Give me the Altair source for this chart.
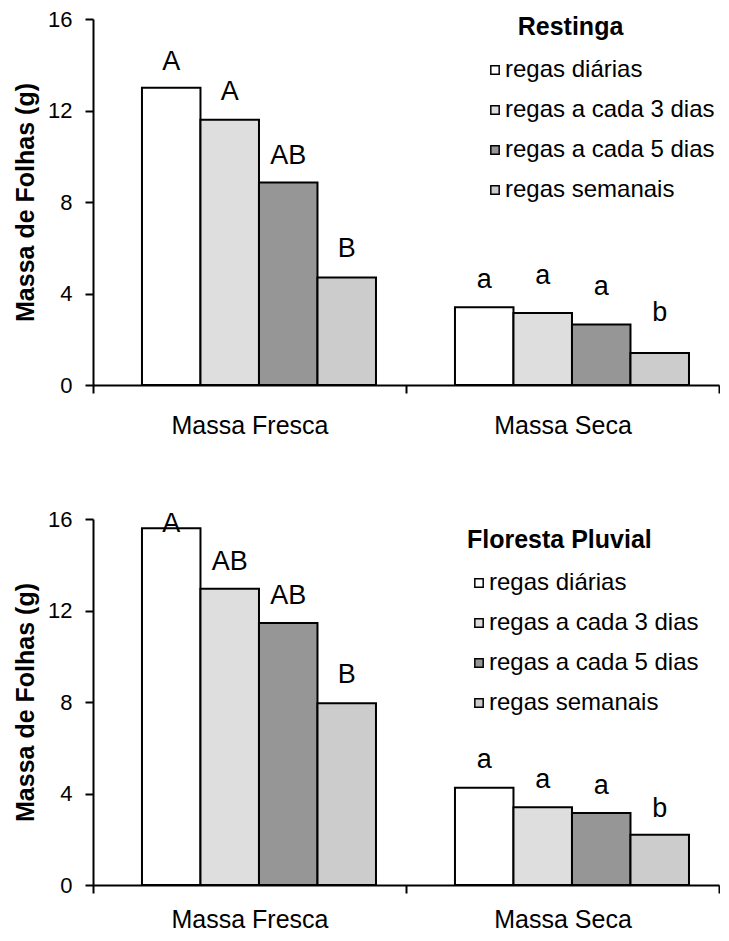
import altair as alt
import pandas as pd

categorias = ["Massa Fresca", "Massa Seca"]
tratamentos = ["regas diárias", "regas a cada 3 dias", "regas a cada 5 dias", "regas semanais"]

restinga_fresca = [13.0, 11.6, 8.85, 4.7]
restinga_seca = [3.4, 3.15, 2.65, 1.4]
floresta_fresca = [15.6, 12.95, 11.45, 7.95]
floresta_seca = [4.25, 3.4, 3.15, 2.2]

letras_restinga_fresca = ["A", "A", "AB", "B"]
letras_restinga_seca = ["a", "a", "a", "b"]
letras_floresta_fresca = ["A", "AB", "AB", "B"]
letras_floresta_seca = ["a", "a", "a", "b"]

# height (g) at which each letter sits
rot_restinga_fresca = [13.78, 12.47, 9.66, 5.6]
rot_restinga_seca = [4.24, 4.42, 3.95, 2.80]
rot_floresta_fresca = [15.42, 13.75, 12.27, 8.81]
rot_floresta_seca = [5.10, 4.23, 4.0, 2.99]

y_ticks = [0, 4, 8, 12, 16]
cores = ["#ffffff", "#dedede", "#969696", "#cccccc"]

FONT = "Liberation Sans"


def tabela(fresca, seca, lf, ls, rf, rs):
    rows = []
    for cat, vals, lets, rots in [(categorias[0], fresca, lf, rf), (categorias[1], seca, ls, rs)]:
        for t, v, l, r in zip(tratamentos, vals, lets, rots):
            rows.append({"massa": cat, "regime": t, "valor": v, "letra": l, "rotulo": r})
    return pd.DataFrame(rows)


def painel(df, titulo, lx, ly, lpad):
    x = alt.X("massa:N", sort=categorias,
              scale=alt.Scale(domain=categorias, paddingInner=0, paddingOuter=0),
              axis=alt.Axis(title=None, labelAngle=0, labelFontSize=25, labelFont=FONT,
                            labelColor="black", labelPadding=lpad, tickSize=8, tickWidth=2,
                            tickColor="black", domainColor="black", domainWidth=2,
                            tickBand="extent"))
    xo = alt.XOffset("regime:N", sort=tratamentos,
                     scale=alt.Scale(domain=tratamentos, paddingInner=0, paddingOuter=0.675,
                                     align=0.62))
    yaxis = alt.Axis(values=y_ticks, title="Massa de Folhas (g)", titleFontSize=25,
                     titleFont=FONT, titleFontWeight="bold", titleColor="black",
                     titlePadding=9, labelFontSize=22, labelFont=FONT, labelColor="black",
                     labelPadding=13, tickSize=8, tickWidth=2, tickColor="black",
                     domainColor="black", domainWidth=2, grid=False)
    yscale = alt.Scale(domain=[0, 16], nice=False)
    bars = alt.Chart(df).mark_bar(stroke="black", strokeWidth=2).encode(
        x=x, xOffset=xo,
        y=alt.Y("valor:Q", scale=yscale, axis=yaxis),
        fill=alt.Fill("regime:N", sort=tratamentos,
                      scale=alt.Scale(domain=tratamentos, range=cores),
                      legend=alt.Legend(title=titulo, orient="none", legendX=lx, legendY=ly,
                                        titleFontSize=25, titleFont=FONT, titleFontWeight="bold",
                                        titleColor="black", titleAnchor="start", titlePadding=18,
                                        titleLimit=500,
                                        labelFontSize=24, labelFont=FONT, labelColor="black",
                                        labelOffset=alt.ExprRef(expr="-2"),
                                        symbolType="square", symbolSize=70,
                                        symbolStrokeColor="black", symbolStrokeWidth=1.5,
                                        rowPadding=16, padding=0, labelLimit=500)),
    )
    text = alt.Chart(df).mark_text(font=FONT, fontSize=27, baseline="alphabetic",
                                   align="center", color="black").encode(
        x=x, xOffset=xo,
        y=alt.Y("rotulo:Q", scale=yscale, axis=yaxis),
        text="letra:N",
    )
    return alt.layer(bars, text).properties(width=626, height=366)


top = painel(tabela(restinga_fresca, restinga_seca, letras_restinga_fresca, letras_restinga_seca,
                    rot_restinga_fresca, rot_restinga_seca),
             "\u200b" + "\u00a0" * 5 + "Restinga", 390, -4, 20)
bottom = painel(tabela(floresta_fresca, floresta_seca, letras_floresta_fresca, letras_floresta_seca,
                       rot_floresta_fresca, rot_floresta_seca),
                "Floresta Pluvial", 374, 9, 14)

chart = alt.vconcat(top, bottom, spacing=70).resolve_scale(fill="independent").resolve_legend(
    fill="independent").properties(
    padding={"left": 5, "top": 0, "right": 0, "bottom": 0}, background="white"
).configure_view(stroke=None)

chart.save("out.html", embed_options={"renderer": "svg", "actions": False})
